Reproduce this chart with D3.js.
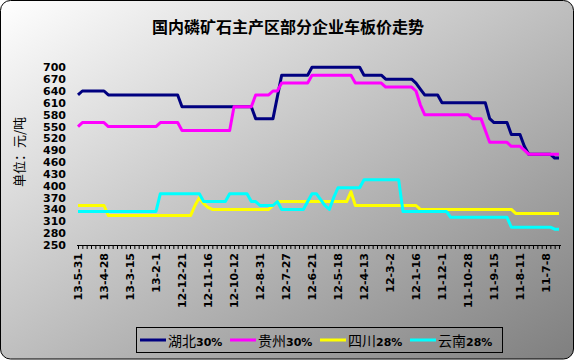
<!DOCTYPE html>
<html><head><meta charset="utf-8">
<script src="https://cdn.jsdelivr.net/npm/d3@7"></script>
<style>html,body{margin:0;padding:0;background:#fff;}svg{display:block;}</style>
</head><body>
<div id="chart"></div>
<script>
// ---- data (left to right as displayed) ----
const title = "国内磷矿石主产区部分企业车板价走势";
const yLabel = "单位：元/吨";
const seriesNames = ["湖北", "贵州", "四川", "云南"];
const seriesPct = ["30%", "30%", "28%", "28%"];
const seriesColors = ["#000080", "#FF00FF", "#FFFF00", "#00FFFF"];
const tickLabels = ["13-5-31","13-4-28","13-3-15","13-2-1","12-12-21","12-11-16","12-10-12","12-8-31","12-7-27","12-6-21","12-5-18","12-4-13","12-3-2","12-1-16","11-12-1","11-10-28","11-9-15","11-8-11","11-7-8"];
const labelEvery = 6;
const yTicks = [250,280,310,340,370,400,430,460,490,520,550,580,610,640,670,700];

const hubei = [630,
640,640,640,640,640,640,
630,630,630,630,630,630,630,630,630,630,630,630,630,630,630,630,630,
600,600,600,600,600,600,600,600,600,600,600,600,600,600,600,600,600,
570,570,570,570,570,
625,
680,680,680,680,680,680,680,
700,700,700,700,700,700,700,700,700,700,700,700,
680,680,680,680,680,
670,670,670,670,670,670,670,
660,645,
630,630,630,630,
610,610,610,610,610,610,610,610,610,610,610,
570,
560,560,560,560,
530,530,530,
500,
480,480,480,480,480,480,
470,470];

const guizhou = [550,
560,560,560,560,560,560,
550,550,550,550,550,550,550,550,550,550,550,550,
560,560,560,560,560,
540,540,540,540,540,540,540,540,540,540,540,540,
600,600,600,600,600,
630,630,630,630,
640,640,
660,660,660,660,660,660,660,
680,680,680,680,680,680,680,680,680,680,
660,660,660,660,660,660,660,
650,650,650,650,650,650,650,
640,605,
580,580,580,580,580,580,580,580,580,580,580,
570,570,570,
540,
510,510,510,510,510,
500,500,500,
490,
480,480,480,480,480,480,480,480];

const sichuan = [350,350,350,350,350,350,350,
325,325,325,325,325,325,325,325,325,325,325,325,325,325,325,325,325,325,325,325,
350,370,355,345,
340,340,340,340,340,340,340,340,340,340,340,340,340,340,
350,
360,360,360,360,360,360,360,360,360,360,360,360,360,360,360,360,360,
385,
350,350,350,350,350,350,350,350,350,350,350,350,350,350,350,
340,340,340,340,340,340,340,340,340,340,340,340,340,340,340,340,340,340,340,340,340,340,
330,330,330,330,330,330,330,330,330,330,330];

const yunnan = [335,335,335,335,335,335,335,335,335,335,335,335,335,335,335,335,335,335,335,
380,380,380,380,380,380,380,380,380,380,
360,360,360,360,360,360,
380,380,380,380,380,
360,360,
350,350,350,350,
360,
340,340,340,340,340,340,
360,
380,380,
365,350,340,370,
395,395,395,395,395,395,
415,415,415,415,415,415,415,415,415,
335,335,335,335,335,335,335,335,335,335,335,
320,320,320,320,320,320,320,320,320,320,320,320,320,320,
295,295,295,295,295,295,295,295,295,295,
290,290];

const series = [hubei, guizhou, sichuan, yunnan];

// ---- drawing ----
const W = 576, H = 361;
const svg = d3.select("#chart").append("svg").attr("width", W).attr("height", H);

const defs = svg.append("defs");
const grad = defs.append("linearGradient").attr("id","bg")
  .attr("x1","0").attr("y1","0").attr("x2","1").attr("y2","1");
grad.append("stop").attr("offset","0%").attr("stop-color","#ffffff");
grad.append("stop").attr("offset","100%").attr("stop-color","#7f7f7f");

svg.append("rect").attr("x",0.5).attr("y",0.5).attr("width",573).attr("height",358.5)
  .attr("rx",10).attr("ry",10).attr("fill","url(#bg)").attr("stroke","#000").attr("stroke-width",1);

svg.append("text").attr("x",288).attr("y",33).attr("text-anchor","middle")
  .attr("font-family","'Noto Sans CJK SC'").attr("font-weight","bold").attr("font-size",16)
  .attr("fill","#000").text(title);

const n = hubei.length;
const x = d3.scalePoint().domain(d3.range(n)).range([78, 559]);
const y = d3.scaleLinear().domain([250, 700]).range([245, 67.3]);

// y tick labels (no axis line)
const yAxis = d3.axisLeft(y).tickValues(yTicks).tickSize(0).tickPadding(0);
const yg = svg.append("g").attr("transform","translate(66,0)").call(yAxis);
yg.select(".domain").remove();
yg.selectAll("text").attr("font-family","'DejaVu Sans'").attr("font-weight","bold")
  .attr("font-size",11).attr("fill","#000");

// y label
svg.append("text").attr("transform","translate(24,152) rotate(-90)")
  .attr("text-anchor","middle").attr("font-family","'Noto Sans CJK SC'")
  .attr("font-size",13).attr("fill","#000").text(yLabel);

// x axis
const xAxis = d3.axisBottom(x).tickSizeInner(4).tickSizeOuter(0).tickFormat(() => "");
const xg = svg.append("g").attr("transform","translate(0,245)").call(xAxis);
xg.select(".domain").attr("d","M77,0.5H561").attr("stroke","#000");
xg.selectAll(".tick line").attr("stroke","#000");

// x labels
svg.append("g").selectAll("text").data(tickLabels).join("text")
  .attr("transform",(d,i)=>`translate(${x(i*labelEvery)},253) rotate(-90)`)
  .attr("text-anchor","end").attr("dy","0.36em")
  .attr("font-family","'DejaVu Sans'").attr("font-weight","bold").attr("font-size",11)
  .attr("fill","#000").text(d=>d);

// lines
const line = d3.line().x((d,i)=>x(i)).y(d=>y(d));
svg.append("g").selectAll("path").data(series).join("path")
  .attr("d", d=>line(d)).attr("fill","none")
  .attr("stroke",(d,i)=>seriesColors[i]).attr("stroke-width",3)
  .attr("stroke-linejoin","round");

// legend
const lg = svg.append("g");
lg.append("rect").attr("x",136.5).attr("y",327.5).attr("width",366).attr("height",25)
  .attr("fill","none").attr("stroke","#000").attr("stroke-width",1);
const items = lg.selectAll("g.item").data(seriesNames).join("g").attr("class","item")
  .attr("transform",(d,i)=>`translate(${140 + i*90},340)`);
items.append("line").attr("x1",0).attr("x2",26).attr("y1",0).attr("y2",0)
  .attr("stroke",(d,i)=>seriesColors[i]).attr("stroke-width",3);
const lt = items.append("text").attr("x",28).attr("dy","0.36em").attr("fill","#000");
lt.append("tspan").attr("font-family","'Noto Sans CJK SC'").attr("font-size",14).text(d=>d);
lt.append("tspan").attr("font-family","'DejaVu Sans'").attr("font-weight","bold").attr("font-size",11)
  .text((d,i)=>seriesPct[i]);
</script>
</body></html>
